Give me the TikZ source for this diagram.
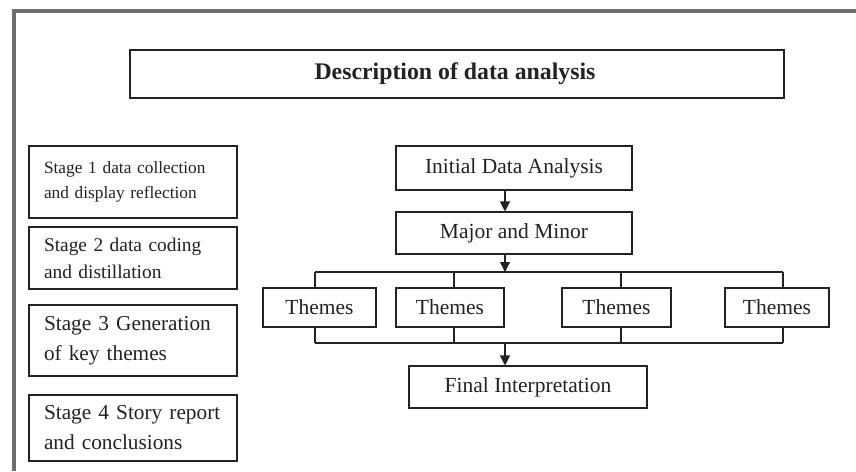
\documentclass[tikz,border=0pt]{standalone}
\usepackage{fontspec}
\setmainfont{Liberation Serif}
\usetikzlibrary{arrows.meta}

\definecolor{framegray}{HTML}{6E6E6E}
\definecolor{ink}{HTML}{222222}

\tikzset{
  box/.style={draw=ink, line width=1.1pt, inner sep=0pt, text=ink, align=center},
  stagebox/.style={box, minimum width=208pt, text width=178pt, align=left},
  link/.style={draw=ink, line width=1.1pt},
  arr/.style={link, -{Triangle[length=10pt,width=10pt]}},
}

\begin{document}
\begin{tikzpicture}[x=1pt,y=-1pt]
\useasboundingbox (0,0) rectangle (856,471);
\fill[white] (0,0) rectangle (856,471);

% outer frame (top and left edges)
\draw[framegray, line width=4pt] (14,471) -- (14,11) -- (856,11);

% heading
\node[box, minimum width=654pt, minimum height=48pt, font=\fontsize{23.8}{26}\selectfont\bfseries]
  (title) at (457,74) {\hspace*{-4pt}Description of data analysis};

% stages on the left
\node[stagebox, minimum height=72pt, font=\fontsize{17.3}{25}\selectfont]
  (s1) at (133,182) {\mbox{Stage 1 data collection}\\\mbox{and display reflection}};
\node[stagebox, minimum height=62pt, font=\fontsize{19.4}{27}\selectfont]
  (s2) at (133,258) {\mbox{Stage 2 data coding}\\\mbox{and distillation}};
\node[stagebox, minimum height=71pt, font=\fontsize{21.3}{30}\selectfont]
  (s3) at (133,340.5) {\mbox{Stage 3 Generation}\\\mbox{of key themes}};
\node[stagebox, minimum height=66pt, font=\fontsize{21.3}{30}\selectfont]
  (s4) at (133,428) {\mbox{Stage 4 Story report}\\\mbox{and conclusions}};

% flow on the right
\tikzset{flow/.style={box, font=\fontsize{21.5}{24}\selectfont}}
\node[flow, minimum width=236pt, minimum height=44pt] (ini) at (514,168) {Initial Data Analysis};
\node[flow, minimum width=236pt, minimum height=42pt] (maj) at (514,233) {Major and Minor};
\node[flow, minimum width=113pt, minimum height=39pt] (t1) at (319.5,307.5) {Themes};
\node[flow, minimum width=108pt, minimum height=39pt] (t2) at (450,307.5) {Themes};
\node[flow, minimum width=109pt, minimum height=39pt] (t3) at (616.5,307.5) {Themes};
\node[flow, minimum width=104pt, minimum height=39pt] (t4) at (777,307.5) {Themes};
\node[flow, minimum width=238pt, minimum height=42pt] (fin) at (528,387) {Final Interpretation};

% spine, buses and taps
\coordinate (spine) at (505,0);
\coordinate (busT) at (0,272);
\coordinate (busB) at (0,343);
\coordinate (k1) at (315,0);
\coordinate (k2) at (454,0);
\coordinate (k3) at (621,0);
\coordinate (k4) at (783,0);

\draw[arr] (ini.south -| spine) -- (maj.north -| spine);
\draw[arr] (maj.south -| spine) -- (spine |- busT);
\draw[link] (k1 |- busT) -- (k4 |- busT);
\draw[link] (k1 |- busB) -- (k4 |- busB);
\foreach \k/\t in {k1/t1,k2/t2,k3/t3,k4/t4}{
  \draw[link] (\k |- busT) -- (\k |- \t.north);
  \draw[link] (\k |- \t.south) -- (\k |- busB);
}
\draw[arr] (spine |- busB) -- (fin.north -| spine);
\end{tikzpicture}
\end{document}
